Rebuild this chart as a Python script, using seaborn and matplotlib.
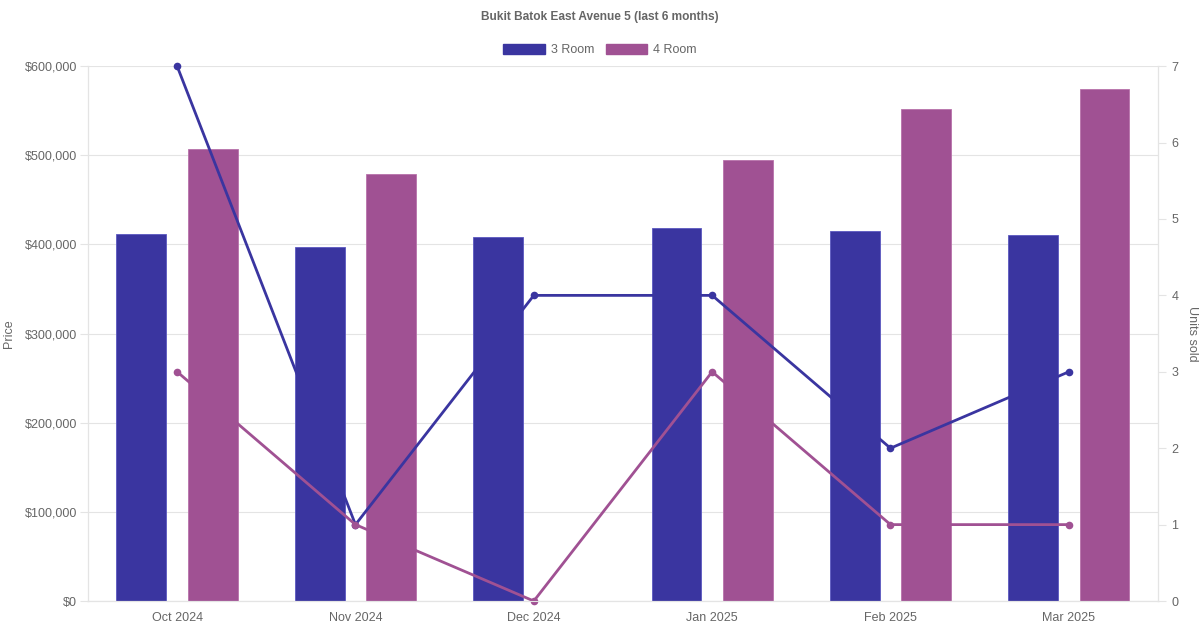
import pandas as pd
import matplotlib.pyplot as plt
import matplotlib.ticker as mticker
import seaborn as sns

months = ["Oct 2024", "Nov 2024", "Dec 2024", "Jan 2025", "Feb 2025", "Mar 2025"]
price_3room = [412000, 397000, 408000, 418000, 415000, 411000]
price_4room = [507000, 479000, None, 495000, 552000, 574000]
units_3room = [7, 1, 4, 4, 2, 3]
units_4room = [3, 1, 0, 3, 1, 1]
flat_types = ["3 Room", "4 Room"]
colors = {"3 Room": "#3a35a0", "4 Room": "#a05193"}

prices = pd.DataFrame({
    "month": months * 2,
    "type": ["3 Room"] * 6 + ["4 Room"] * 6,
    "price": price_3room + price_4room,
})
units = pd.DataFrame({
    "month": months * 2,
    "type": ["3 Room"] * 6 + ["4 Room"] * 6,
    "units": units_3room + units_4room,
})

sns.set_style("white")
plt.rcParams['font.family'] = ['Liberation Sans', 'DejaVu Sans']
grey = "#666666"
gridc = "#e4e4e4"

fig = plt.figure(figsize=(12, 6.3), dpi=100)
ax = fig.add_axes([0.0733, 0.046, 0.8917, 0.849])

sns.barplot(data=prices, x="month", y="price", hue="type", hue_order=flat_types,
            palette=colors, width=0.8, gap=0.3, ax=ax, legend=False,
            edgecolor="#5b58c0", linewidth=0.6, saturation=1)
for p in ax.patches[6:]:
    p.set_edgecolor("#b872ab")

ax.set_ylim(0, 600000)
ax.set_xlim(-0.5, 5.5)
ax.yaxis.set_major_locator(mticker.MultipleLocator(100000))
ax.yaxis.set_major_formatter(mticker.FuncFormatter(lambda v, _: f"${v:,.0f}"))
ax.grid(axis="y", color=gridc, linewidth=0.8)
ax.set_axisbelow(True)
ax.set_xlabel("")
ax.set_ylabel("Price", color=grey, fontsize=9, labelpad=7)
ax.tick_params(axis="y", colors=gridc, labelcolor=grey, labelsize=9,
               length=6, width=0.8, direction="out", pad=2)
ax.tick_params(axis="x", length=0, pad=8, labelcolor=grey, labelsize=9)
for s in ["left", "right", "bottom"]:
    ax.spines[s].set_color(gridc)
    ax.spines[s].set_linewidth(0.8)
ax.spines["top"].set_visible(False)

ax2 = ax.twinx()
sns.lineplot(data=units, x="month", y="units", hue="type", hue_order=flat_types,
             palette=colors, marker="o", markersize=5.5, markeredgewidth=0,
             linewidth=2.0, ax=ax2, legend=False, sort=False)
for ln in ax2.lines:
    ln.set_clip_on(False)
ax2.set_ylim(0, 7)
ax2.set_xlim(-0.5, 5.5)
ax2.yaxis.set_major_locator(mticker.MultipleLocator(1))
ax2.set_ylabel("Units sold", color=grey, fontsize=9, rotation=270, labelpad=14)
ax2.tick_params(axis="y", colors=gridc, labelcolor=grey, labelsize=9,
                length=6, width=0.8)
ax2.grid(False)
for s in ["left", "right", "bottom"]:
    ax2.spines[s].set_color(gridc)
    ax2.spines[s].set_linewidth(0.8)
ax2.spines["top"].set_visible(False)

handles = [plt.Rectangle((0, 0), 1, 1, facecolor=colors[t], edgecolor=colors[t]) for t in flat_types]
fig.legend(handles, flat_types, loc="center", bbox_to_anchor=(0.5, 0.921), ncol=2,
           frameon=False, fontsize=9, labelcolor=grey, handlelength=3.3,
           handleheight=0.9, columnspacing=0.9, handletextpad=0.5)

fig.text(0.5, 0.973, "Bukit Batok East Avenue 5 (last 6 months)", ha="center", va="center",
         fontsize=8.6, fontweight="bold", color=grey)

plt.savefig("out.png", dpi=100)
